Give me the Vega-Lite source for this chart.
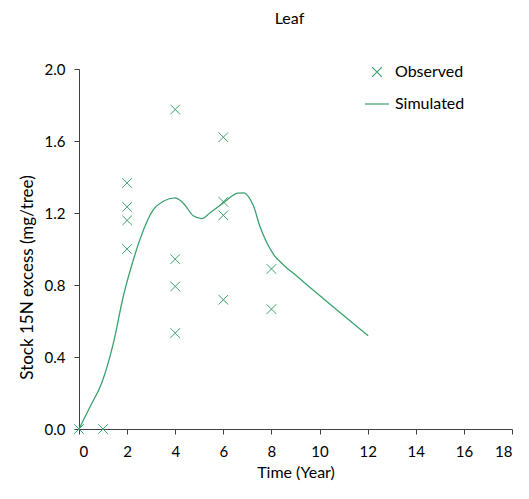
{
  "$schema": "https://vega.github.io/schema/vega-lite/v6.json",
  "width": 433,
  "height": 360,
  "autosize": {"type": "none"},
  "padding": {"left": 79, "top": 69, "right": 17, "bottom": 70},
  "background": "white",
  "title": {"text": "Leaf", "font": "Lato", "fontSize": 16, "fontWeight": "normal", "color": "#000000", "frame": "group", "anchor": "middle", "baseline": "alphabetic", "offset": 19, "dx": -6},
  "config": {
    "view": {"stroke": null},
    "axis": {"grid": false, "domainColor": "#404040", "tickColor": "#404040", "labelFont": "Lato", "labelFontSize": 15, "labelColor": "#000000", "titleFont": "Lato", "titleFontSize": 16, "titleFontWeight": "normal", "titleColor": "#000000", "tickSize": 5}
  },
  "datasets": {
    "sim": [
      {"t": 0, "v": 0},
      {"t": 0.46, "v": 0.124},
      {"t": 0.94, "v": 0.254},
      {"t": 1.43, "v": 0.477},
      {"t": 1.84, "v": 0.736},
      {"t": 2.26, "v": 0.94},
      {"t": 2.53, "v": 1.052},
      {"t": 3.09, "v": 1.219},
      {"t": 3.5, "v": 1.265},
      {"t": 3.99, "v": 1.284},
      {"t": 4.33, "v": 1.256},
      {"t": 4.75, "v": 1.185},
      {"t": 5.1, "v": 1.169},
      {"t": 5.44, "v": 1.2},
      {"t": 6.0, "v": 1.256},
      {"t": 6.6, "v": 1.31},
      {"t": 6.85, "v": 1.312},
      {"t": 7.05, "v": 1.29},
      {"t": 7.25, "v": 1.24},
      {"t": 7.52, "v": 1.126},
      {"t": 8.1, "v": 0.968},
      {"t": 8.49, "v": 0.913},
      {"t": 9.04, "v": 0.851},
      {"t": 9.88, "v": 0.755},
      {"t": 10.71, "v": 0.662},
      {"t": 12.02, "v": 0.518}
    ],
    "obs": [
      {"t": 0, "v": 0, "series": "Observed"},
      {"t": 1, "v": 0, "series": "Observed"},
      {"t": 2, "v": 1.367, "series": "Observed"},
      {"t": 2, "v": 1.234, "series": "Observed"},
      {"t": 2, "v": 1.159, "series": "Observed"},
      {"t": 2, "v": 1.0, "series": "Observed"},
      {"t": 4, "v": 1.775, "series": "Observed"},
      {"t": 4, "v": 0.944, "series": "Observed"},
      {"t": 4, "v": 0.792, "series": "Observed"},
      {"t": 4, "v": 0.533, "series": "Observed"},
      {"t": 6, "v": 1.621, "series": "Observed"},
      {"t": 6, "v": 1.262, "series": "Observed"},
      {"t": 6, "v": 1.187, "series": "Observed"},
      {"t": 6, "v": 0.718, "series": "Observed"},
      {"t": 8, "v": 0.889, "series": "Observed"},
      {"t": 8, "v": 0.666, "series": "Observed"}
    ]
  },
  "encoding": {
    "x": {"field": "t", "type": "quantitative", "scale": {"domain": [0, 18], "nice": false}, "axis": {"values": [0, 2, 4, 6, 8, 10, 12, 14, 16, 18], "title": "Time (Year)", "labelPadding": 10, "titlePadding": 5}},
    "y": {"field": "v", "type": "quantitative", "scale": {"domain": [0, 2], "nice": false}, "axis": {"values": [0, 0.4, 0.8, 1.2, 1.6, 2.0], "format": ".1f", "title": "Stock 15N excess (mg/tree)", "titleFontSize": 17, "titleY": 208, "labelPadding": 9, "titlePadding": 8}}
  },
  "layer": [
    {
      "data": {"name": "sim"},
      "mark": {"type": "line", "color": "#3aa26d", "strokeWidth": 1.3, "interpolate": "monotone"}
    },
    {
      "data": {"name": "obs"},
      "mark": {"type": "point", "filled": false, "size": 576, "strokeWidth": 1, "color": "#3aa26d", "opacity": 1},
      "encoding": {
        "shape": {
          "field": "series",
          "type": "nominal",
          "scale": {"domain": ["Observed", "Simulated"], "range": ["M-0.4,-0.4L0.4,0.4M-0.4,0.4L0.4,-0.4", "stroke"]},
          "legend": {"orient": "none", "legendX": 285, "legendY": -10, "title": null, "symbolSize": 576, "symbolStrokeColor": "#3aa26d", "symbolStrokeWidth": 1.2, "symbolFillColor": "transparent", "labelFont": "Lato", "labelFontSize": 16, "labelColor": "#000000", "labelOffset": 5, "rowPadding": 11, "padding": 0}
        }
      }
    }
  ]
}
